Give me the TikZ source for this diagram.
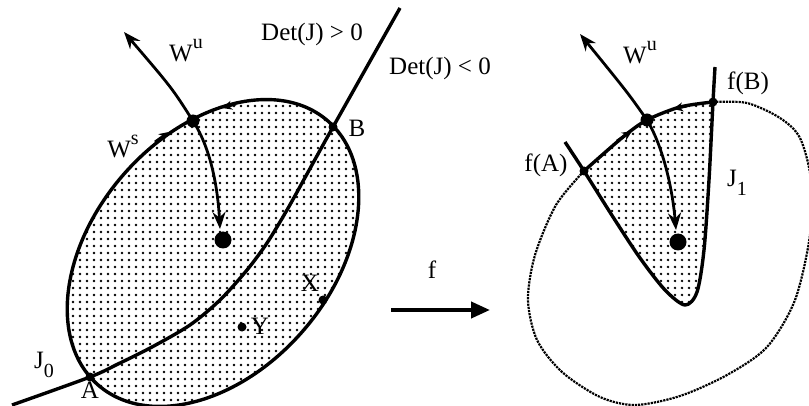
\documentclass[tikz,border=0pt]{standalone}
\usepackage{fontspec}
\setmainfont{Liberation Serif}
\usetikzlibrary{arrows.meta, patterns.meta}
\newcommand{\manisup}[1]{\raisebox{13pt}{\fontsize{20}{20}\selectfont #1}}
\newcommand{\manisub}[1]{\raisebox{-9pt}{\fontsize{20}{20}\selectfont #1}}

\begin{document}
\begin{tikzpicture}[
  x=1pt, y=-1pt,
  font=\fontsize{25}{28}\selectfont,
  curve/.style={line width=3.4pt, line join=round},
  dotfill/.style={pattern={Dots[distance=6.5pt, radius=1.4pt]}},
  manifold/.style={line width=2.8pt, -{Stealth[length=17pt, width=13pt]}},
  flowmark/.style={line width=2.8pt, -{Stealth[length=10pt, width=9pt]}},
  imagecurve/.style={line width=2.2pt, densely dotted},
  pointdot/.style={circle, fill, inner sep=0pt, minimum size=9pt},
  saddledot/.style={circle, fill, inner sep=0pt, minimum size=13pt},
  sinkdot/.style={circle, fill, inner sep=0pt, minimum size=17pt},
  maparrow/.style={line width=4pt, -{Triangle[length=19pt, width=16pt]}},
  lbl/.style={inner sep=1pt}
]
\useasboundingbox (0,0) rectangle (809,406);
\clip (0,0) rectangle (809,406);

% left: region J0 with the ellipse
\coordinate (ctrL) at (213,253);
\draw[curve, dotfill, rotate around={49:(ctrL)}] (ctrL) ellipse [x radius=175, y radius=119];
\coordinate (A) at (90,377);
\coordinate (B) at (333,127);
\coordinate (X) at (323,300);
\coordinate (fpL) at (193,121);

% the curve Det(J)=0
\draw[curve] plot[smooth] coordinates {
  (12,405) (A) (118,364) (152,347) (190,325) (220,300) (247,270) (267,243) (287,210) (307,174) (B) (400,8)};

% stable and unstable manifolds (left)
\draw[manifold] (fpL) .. controls (172,88) .. (124,32);
\draw[manifold] (fpL) .. controls (212,150) and (218,192) .. (220,229);
\draw[flowmark] (155,142) -- (169,132);
\draw[flowmark] (236,104) -- (222,108);

\node[saddledot] (saddleL) at (fpL) {};
\node[sinkdot] (sinkL) at (223,240) {};
\node[pointdot] (ptA) at (A) {};
\node[pointdot] (ptB) at (B) {};
\node[pointdot] (ptX) at (X) {};
\node[pointdot] (ptY) at (242,327) {};

\node[lbl] (labA) at (90,390) {A};
\node[lbl] (labB) at (357,128) {B};
\node[lbl] (labX) at (310,283) {X};
\node[lbl] (labY) at (260,326) {Y};
\node[lbl] (labJ0) at (44,365) {J\manisub{0}};
\node[lbl] (labWs) at (123,146) {W\manisup{s}};
\node[lbl] (labWuL) at (186,51) {W\manisup{u}};
\node[lbl] (detpos) at (312,34) {Det(J) > 0};
\node[lbl] (detneg) at (440,68) {Det(J) < 0};

% the map f
\coordinate (mapstart) at (391,310);
\coordinate (mapend) at (490,310);
\draw[maparrow] (mapstart) -- (mapend);
\node[lbl] (labf) at (432,270) {f};

% right: the image f(J0)
\coordinate (fA) at (584,171);
\coordinate (fB) at (713,102);
\coordinate (fpR) at (647,120);

\fill[dotfill] plot[smooth] coordinates {
  (fA) (613,217) (640,258) (665,290) (685,305) (697,292) (704,250) (709,180) (fB)}
  -- plot[smooth] coordinates {(fB) (680,107) (fpR) (623,137) (fA)} -- cycle;

\draw[imagecurve] plot[smooth] coordinates {
  (fB) (747,103) (780,118) (800,138) (811,180) (810,235) (795,300) (767,347)
  (727,375) (680,396) (635,405) (600,397) (562,372) (537,340) (528,300)
  (535,255) (556,205) (fA)};

\draw[curve] plot[smooth] coordinates {
  (565,142) (fA) (613,217) (640,258) (665,290) (685,305) (697,292) (704,250) (709,180) (fB) (715,67)};
\draw[curve] plot[smooth] coordinates {(fA) (623,137) (fpR) (680,107) (fB)};

\draw[manifold] (fpR) .. controls (628,93) .. (580,34);
\draw[manifold] (fpR) .. controls (665,150) and (673,195) .. (676,230);
\draw[flowmark] (617,141) -- (632,131);
\draw[flowmark] (687,106) -- (673,109);

\node[saddledot] (saddleR) at (fpR) {};
\node[sinkdot] (sinkR) at (678,242) {};
\node[pointdot] (ptfA) at (fA) {};
\node[pointdot] (ptfB) at (fB) {};

\node[lbl] (labfA) at (546,165) {f(A)};
\node[lbl] (labfB) at (748,83) {f(B)};
\node[lbl] (labJ1) at (737,183) {J\manisub{1}};
\node[lbl] (labWuR) at (640,53) {W\manisup{u}};
\end{tikzpicture}
\end{document}
